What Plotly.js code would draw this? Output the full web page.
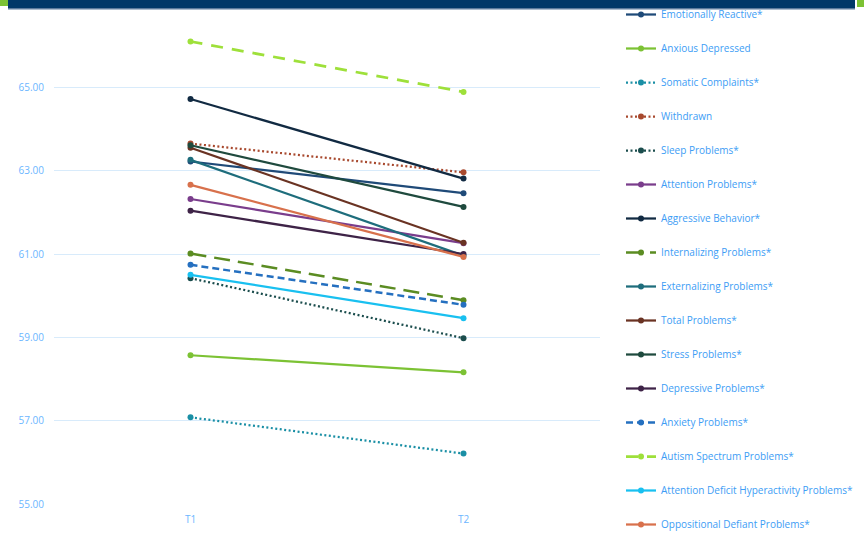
<!DOCTYPE html>
<html>
<head>
<meta charset="utf-8">
<script src="https://cdn.plot.ly/plotly-3.0.1.min.js"></script>
<style>html,body{margin:0;padding:0;background:#fff;}#chart{width:864px;height:538px;}</style>
</head>
<body>
<div id="chart"></div>
<script>
// ---- data ----
const timepoints = ["T1", "T2"];
const seriesNames = [
  "Emotionally Reactive*",
  "Anxious Depressed",
  "Somatic Complaints*",
  "Withdrawn",
  "Sleep Problems*",
  "Attention Problems*",
  "Aggressive Behavior*",
  "Internalizing Problems*",
  "Externalizing Problems*",
  "Total Problems*",
  "Stress Problems*",
  "Depressive Problems*",
  "Anxiety Problems*",
  "Autism Spectrum Problems*",
  "Attention Deficit Hyperactivity Problems*",
  "Oppositional Defiant Problems*"
];
const emotionallyReactive = [63.22, 62.46];
const anxiousDepressed    = [58.57, 58.16];
const somaticComplaints   = [57.08, 56.21];
const withdrawn           = [63.65, 62.96];
const sleepProblems       = [60.42, 58.98];
const attentionProblems   = [62.32, 61.26];
const aggressiveBehavior  = [64.72, 62.81];
const internalizing       = [61.01, 59.89];
const externalizing       = [63.26, 60.96];
const totalProblems       = [63.55, 61.27];
const stressProblems      = [63.61, 62.13];
const depressiveProblems  = [62.04, 61.00];
const anxietyProblems     = [60.74, 59.78];
const autismSpectrum      = [66.10, 64.89];
const adhProblems         = [60.50, 59.46];
const oppositionalDefiant = [62.66, 60.93];
const seriesValues = [emotionallyReactive, anxiousDepressed, somaticComplaints, withdrawn,
  sleepProblems, attentionProblems, aggressiveBehavior, internalizing, externalizing,
  totalProblems, stressProblems, depressiveProblems, anxietyProblems, autismSpectrum,
  adhProblems, oppositionalDefiant];
const yTickVals = [55, 57, 59, 61, 63, 65, 67];
const yTickText = ["55.00", "57.00", "59.00", "61.00", "63.00", "65.00", "67.00"];

// ---- styles ----
const colors = ["#1f4a78", "#7cc234", "#1a8fa5", "#a8492e", "#1b4d4d", "#7a3d8c",
  "#112a42", "#5b8c22", "#1e6d7c", "#6a3323", "#1f4a3e", "#3e2347",
  "#2570c0", "#9ee03a", "#19c0f0", "#d8714c"];
const dashes = ["solid", "solid", "2px,2.5px", "2px,2.5px", "2px,2.5px", "solid",
  "solid", "16px,8px", "solid", "solid", "solid", "solid",
  "7px,4px", "12px,9px", "solid", "solid"];
const widths = [2.25, 2.25, 2.25, 2.25, 2.25, 2.25, 2.25, 2.5, 2.25, 2.25, 2.25, 2.25, 2.5, 2.75, 2.25, 2.25];

const traces = seriesNames.map((name, i) => ({
  type: "scatter",
  mode: "lines+markers",
  name: name,
  legendgroup: "g" + i,
  x: timepoints,
  y: seriesValues[i],
  line: {color: colors[i], width: widths[i], dash: dashes[i]},
  marker: {color: colors[i], size: 6, symbol: "circle"}
}));

const PL = 54, PW = 546, PT = 4, PH = 500;
function px(x) { return (x - PL) / PW; }
function py(y) { return (PT + PH - y) / PH; }

const layout = {
  width: 864, height: 538,
  margin: {l: PL, r: 864 - PL - PW, t: PT, b: 538 - PT - PH, pad: 0},
  paper_bgcolor: "#ffffff",
  plot_bgcolor: "#ffffff",
  font: {family: "Open Sans, Liberation Sans, sans-serif", size: 10, color: "#55aaff"},
  showlegend: true,
  legend: {
    x: px(621), xanchor: "left", y: py(4), yanchor: "top",
    font: {size: 10, color: "#3d9df5"},
    tracegroupgap: 15,
    bgcolor: "rgba(0,0,0,0)",
    itemwidth: 30,
    maxheight: 700
  },
  xaxis: {
    type: "category",
    range: [-0.5, 1.5],
    showgrid: false, zeroline: false, showline: false,
    ticks: "",
    tickfont: {size: 10, color: "#6cb6ff"},
    ticklabelstandoff: 8
  },
  yaxis: {
    range: [55, 67],
    tickvals: yTickVals, ticktext: yTickText,
    showgrid: true, gridcolor: "#d8ebfb", gridwidth: 1,
    zeroline: false, showline: false, ticks: "",
    tickfont: {size: 10, color: "#6cb6ff"},
    ticklabelstandoff: 9
  },
  shapes: [
    {type: "rect", xref: "paper", yref: "paper", layer: "below",
     x0: px(8), x1: px(855), y0: py(9), y1: py(-2),
     fillcolor: "#003868", line: {width: 0}},
    {type: "rect", xref: "paper", yref: "paper", layer: "below",
     x0: px(8), x1: px(855), y0: py(9.5), y1: py(8),
     fillcolor: "#5a7a9c", line: {width: 0}},
    {type: "rect", xref: "paper", yref: "paper", layer: "below",
     x0: px(0), x1: px(8), y0: py(6), y1: py(-2),
     fillcolor: "#7cc234", line: {width: 0}},
    {type: "rect", xref: "paper", yref: "paper", layer: "below",
     x0: px(857), x1: px(865), y0: py(7), y1: py(-2),
     fillcolor: "#7cc234", line: {width: 0}}
  ]
};

Plotly.newPlot("chart", traces, layout, {displayModeBar: false, staticPlot: true});
</script>
</body>
</html>
